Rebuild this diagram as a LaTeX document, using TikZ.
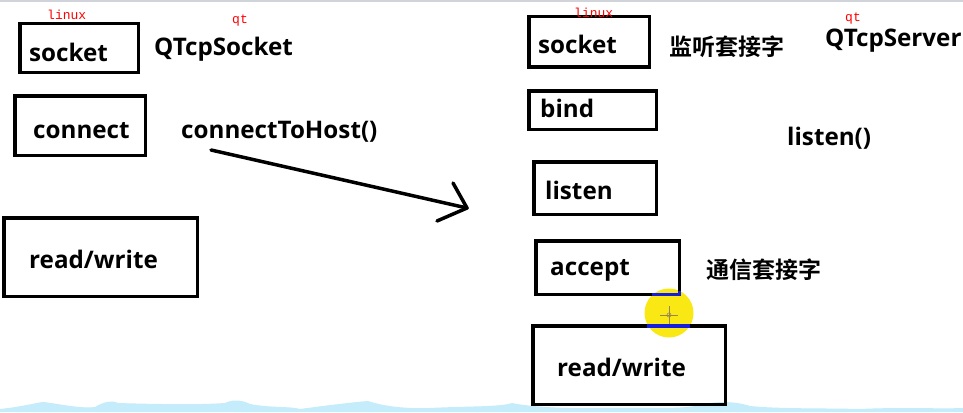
\documentclass[tikz,border=0pt]{standalone}
\usepackage{fontspec}
\setmainfont{Open Sans}
\newfontfamily\cjk{Noto Sans CJK SC}[BoldFont={Noto Sans CJK SC Bold}]
\newfontfamily\redmono{Liberation Mono}
\definecolor{skyblue}{RGB}{196,236,250}
\definecolor{topgrey}{RGB}{208,212,218}
\definecolor{cursoryellow}{RGB}{250,232,20}
\definecolor{hiblue}{RGB}{20,30,220}
\tikzset{
  box/.style={draw=black, line width=3.5pt, inner sep=0pt},
  lbl/.style={font=\fontsize{24.2}{27}\selectfont\bfseries, inner sep=0pt, anchor=base west},
  cjklbl/.style={font=\fontsize{23}{26}\selectfont\cjk\bfseries, inner sep=0pt, anchor=west},
  tag/.style={font=\fontsize{13}{14}\selectfont\redmono, text=red, inner sep=0pt, anchor=base west},
  arrowline/.style={line width=3.5pt, line cap=round, line join=round}
}
\begin{document}
\begin{tikzpicture}[x=1pt,y=-1pt]
\useasboundingbox (0,0) rectangle (963,412);
\fill[white] (0,0) rectangle (963,412);
\fill[topgrey] (0,0) rectangle (963,2);
% bottom sky band
\fill[skyblue] (0,412) -- (0,409) .. controls (20,407) and (35,403) .. (43,402)
  .. controls (55,403) and (80,409) .. (95,407) .. controls (103,402) and (112,400) .. (118,403)
  .. controls (150,404) and (200,405) .. (225,403) .. controls (233,399) and (242,400) .. (250,404)
  .. controls (270,408) and (290,406) .. (300,409) .. controls (330,405) and (355,402) .. (368,401)
  .. controls (380,405) and (400,409) .. (430,408) .. controls (470,406) and (500,407) .. (512,403)
  .. controls (525,406) and (560,409) .. (600,408) .. controls (640,407) and (680,410) .. (700,405)
  .. controls (715,401) and (735,401) .. (750,406) .. controls (780,409) and (820,408) .. (860,409)
  .. controls (900,407) and (940,409) .. (963,408) -- (963,412) -- cycle;
% cursor
\fill[cursoryellow] (669,313) circle (24.5);
% left column
\node[box, minimum width=118.5pt, minimum height=48.5pt] (sockL) at (79,48) {};
\node[box, minimum width=130.5pt, minimum height=59.5pt] (connL) at (80,125.5) {};
\node[box, minimum width=193.5pt, minimum height=78.5pt] (rwL) at (100.5,257) {};
% right column
\node[box, minimum width=120.5pt, minimum height=50.5pt] (sockR) at (589,42) {};
\node[box, minimum width=127.5pt, minimum height=38.5pt] (bindR) at (592.5,110) {};
\node[box, minimum width=122.5pt, minimum height=52.5pt] (listenR) at (595,188) {};
\node[box, minimum width=143.5pt, minimum height=53.5pt] (acceptR) at (607.5,267.5) {};
\node[box, minimum width=192.5pt, minimum height=78.5pt] (rwR) at (629,365) {};
% cursor highlights and crosshair
\draw[hiblue, line width=3.5pt] (652,294.25) -- (679.25,294.25) -- (679.25,291);
\draw[hiblue, line width=3.5pt] (647,325.75) -- (690,325.75);
\draw[black!60!yellow!60!brown, line width=0.8pt] (660,315) -- (678,315) (669,306) -- (669,324);
\draw[black!60!yellow!60!brown, line width=0.6pt] (669,315) circle (2);
% box texts
\node[lbl] (tSockL) at (29,61) {socket};
\node[lbl] (tConnL) at (33,138) {connect};
\node[lbl] (tRwL) at (29,268) {read/write};
\node[lbl] (tSockR) at (538,54) {socket};
\node[lbl] (tBind) at (540,117) {bind};
\node[lbl] (tListen) at (545,199) {listen};
\node[lbl] (tAccept) at (550,275) {accept};
\node[lbl] (tRwR) at (557,376) {read/write};
% side texts
\node[lbl] (qsock) at (154,56) {QTcpSocket};
\node[lbl] (cth) at (181,138) {connectToHost()};
\node[lbl] (qserv) at (825,47) {QTcpServer};
\node[lbl] (lfn) at (787,145) {listen()};
\node[cjklbl] (jt) at (669,47) {监听套接字};
\node[cjklbl] (tx) at (706,270) {通信套接字};
% red tags
\node[tag] (lx1) at (47,20) {linux};
\node[tag] (qt1) at (232,24) {qt};
\node[tag] (lx2) at (574,18) {linux};
\node[tag] (qt2) at (845,22) {qt};
% arrow
\coordinate (a0) at (211,150);
\coordinate (a1) at (467,208);
\coordinate (h1) at (453,183);
\coordinate (h2) at (437,221);
\draw[arrowline] (a0) -- (a1);
\draw[arrowline] (h1) -- (a1) -- (h2);
\end{tikzpicture}
\end{document}
